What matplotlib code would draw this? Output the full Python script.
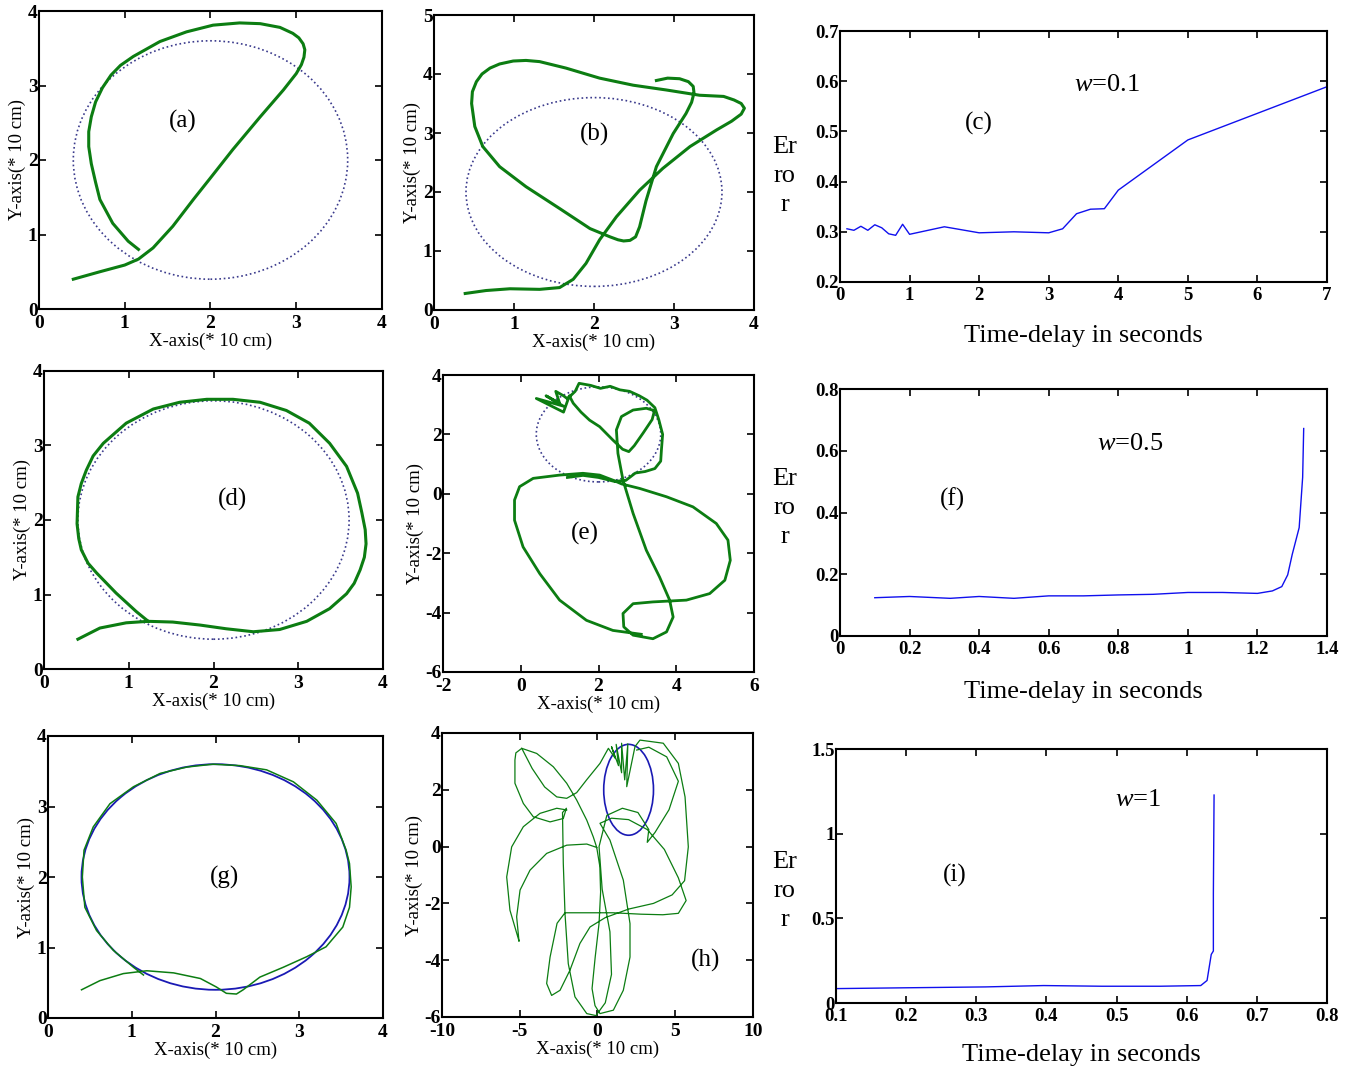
import matplotlib
matplotlib.use("Agg")
import matplotlib.pyplot as plt
from matplotlib.patches import Circle

plt.rcParams['font.family'] = ['Liberation Serif', 'DejaVu Serif']
plt.rcParams['mathtext.fontset'] = 'custom'
plt.rcParams['mathtext.rm'] = 'Liberation Serif'
plt.rcParams['mathtext.it'] = 'Liberation Serif:italic'
plt.rcParams['axes.unicode_minus'] = False

NAN = float('nan')

# ---------------- data ----------------
REF_CENTER = (2.0, 2.0)
REF_RADIUS = 1.6

a_x = [0.40, 0.71, 1.00, 1.16, 1.33, 1.56, 1.80, 2.00, 2.26, 2.58, 2.85, 3.00, 3.06, 3.09, 3.10, 3.08,
       3.03, 2.96, 2.81, 2.58, 2.34, 2.03, 1.72, 1.41, 1.10, 0.95, 0.84, 0.74, 0.66, 0.61, 0.58, 0.58,
       0.61, 0.66, 0.71, 0.86, 1.04, 1.16]
a_y = [0.40, 0.50, 0.59, 0.67, 0.82, 1.11, 1.47, 1.76, 2.14, 2.58, 2.94, 3.16, 3.28, 3.38, 3.48, 3.56,
       3.64, 3.70, 3.78, 3.83, 3.84, 3.81, 3.72, 3.59, 3.39, 3.27, 3.14, 2.97, 2.78, 2.58, 2.38, 2.18,
       1.95, 1.70, 1.47, 1.15, 0.91, 0.80]

b_x = [0.39, 0.65, 0.95, 1.32, 1.57, 1.74, 1.90, 2.07, 2.28, 2.57, 2.86, 3.20, 3.53, 3.72, 3.84, 3.88,
       3.84, 3.75, 3.62, 3.32, 2.90, 2.49, 2.07, 1.65, 1.32, 1.15, 0.99, 0.82, 0.70, 0.60, 0.53, 0.48,
       0.47, 0.51, 0.61, 0.82, 1.15, 1.57, 1.95, 2.20, 2.30, 2.37, 2.45, 2.52, 2.57, 2.65, 2.78, 2.99,
       3.15, 3.22, 3.25, 3.24, 3.18, 3.07, 2.92, 2.78]
b_y = [0.28, 0.33, 0.36, 0.35, 0.38, 0.52, 0.79, 1.19, 1.58, 2.03, 2.40, 2.77, 3.05, 3.20, 3.32, 3.42,
       3.50, 3.56, 3.62, 3.64, 3.73, 3.81, 3.93, 4.10, 4.21, 4.23, 4.22, 4.17, 4.10, 4.00, 3.87, 3.70,
       3.50, 3.11, 2.77, 2.43, 2.09, 1.72, 1.38, 1.24, 1.19, 1.17, 1.18, 1.24, 1.41, 1.85, 2.43, 2.99,
       3.33, 3.52, 3.68, 3.79, 3.87, 3.92, 3.93, 3.89]

c_x = [0.10, 0.20, 0.30, 0.40, 0.50, 0.60, 0.70, 0.80, 0.90, 1.00, 1.50, 2.00, 2.50, 3.00, 3.20,
       3.40, 3.60, 3.80, 4.00, 5.00, 7.00]
c_y = [0.306, 0.303, 0.311, 0.303, 0.314, 0.308, 0.296, 0.293, 0.315, 0.295, 0.310, 0.298, 0.300,
       0.298, 0.306, 0.336, 0.345, 0.346, 0.383, 0.483, 0.589]

d_x = [0.40, 0.66, 0.97, 1.23, 1.52, 1.84, 2.15, 2.47, 2.78, 3.10, 3.37, 3.57, 3.66, 3.73, 3.78,
       3.80, 3.79, 3.75, 3.70, 3.57, 3.37, 3.13, 2.86, 2.55, 2.23, 1.92, 1.60, 1.29, 0.97, 0.70, 0.58,
       0.50, 0.44, 0.40, 0.39, 0.41, 0.44, 0.52, 0.62, 0.85, 1.09, 1.23]
d_y = [0.40, 0.55, 0.62, 0.64, 0.63, 0.59, 0.54, 0.50, 0.53, 0.64, 0.81, 1.01, 1.15, 1.33, 1.50,
       1.68, 1.87, 2.10, 2.36, 2.72, 3.03, 3.30, 3.47, 3.58, 3.62, 3.62, 3.58, 3.49, 3.30, 3.03, 2.86,
       2.67, 2.49, 2.31, 1.95, 1.75, 1.60, 1.42, 1.29, 1.02, 0.77, 0.64]

e_x = [3.10, 2.37, 1.69, 1.00, 0.49, 0.06, -0.16, -0.16, -0.03, 0.32, 1.00, 1.60, 2.03, 2.37, 2.60,
       3.06, 3.75, 4.43, 5.03, 5.33, 5.39, 5.25, 4.86, 4.26, 3.40, 2.89, 2.63, 2.65, 2.89, 3.40, 3.75,
       3.92, 3.83, 3.57, 3.23, 2.89, 2.63, 2.50, 2.46, 2.59, 2.89, 3.23, 3.44, 3.38, 3.15, 2.92, 2.78,
       2.62, 2.37, 2.03, 1.77, 1.55, 1.35, 1.25, 1.10, 0.40, 1.10, 0.65, 1.00, 0.90, 1.10, 1.20, 1.40,
       1.50, 1.80, 2.05, 2.30, 2.55, 2.80, 3.05, 3.25, 3.45, 3.55, 3.65, 3.62, 3.60, 3.45, 3.20, 2.95,
       2.70, 2.40, 2.00, 1.60, 1.20]
e_y = [-4.73, -4.60, -4.26, -3.58, -2.69, -1.79, -0.89, -0.21, 0.24, 0.52, 0.63, 0.69, 0.63, 0.46,
       0.33, 0.18, -0.10, -0.44, -1.00, -1.56, -2.24, -2.91, -3.36, -3.58, -3.64, -3.70, -4.03, -4.48,
       -4.76, -4.88, -4.65, -4.15, -3.58, -2.80, -1.90, -0.66, 0.46, 1.36, 2.15, 2.60, 2.82, 2.88, 2.80,
       2.50, 2.05, 1.62, 1.42, 1.50, 1.81, 2.26, 2.48, 2.75, 3.05, 3.30, 2.75, 3.21, 2.95, 3.30, 3.05,
       3.45, 3.30, 3.20, 3.45, 3.72, 3.65, 3.55, 3.62, 3.50, 3.45, 3.30, 3.15, 2.90, 2.50, 2.00, 1.50,
       1.10, 0.85, 0.75, 0.70, 0.45, 0.42, 0.55, 0.62, 0.55]

f_x = [0.10, 0.20, 0.317, 0.40, 0.50, 0.60, 0.70, 0.80, 0.90, 1.00, 1.10, 1.20, 1.243, 1.27, 1.287,
       1.30, 1.32, 1.33, 1.333]
f_y = [0.124, 0.128, 0.122, 0.128, 0.122, 0.130, 0.130, 0.133, 0.135, 0.141, 0.141, 0.138, 0.146,
       0.160, 0.198, 0.264, 0.351, 0.514, 0.672]

g_x = [0.40, 0.62, 0.90, 1.18, 1.50, 1.82, 2.01, 2.13, 2.25, 2.33, 2.53, 2.81, 3.09, 3.32, 3.52,
       3.60, 3.62, 3.60, 3.56, 3.44, 3.21, 2.93, 2.61, 2.29, 1.97, 1.66, 1.34, 1.02, 0.74, 0.54, 0.43,
       0.41, 0.44, 0.58, 0.78, 1.02, 1.14]
g_y = [0.40, 0.53, 0.63, 0.67, 0.64, 0.56, 0.44, 0.35, 0.34, 0.40, 0.58, 0.72, 0.87, 1.01, 1.29,
       1.57, 1.86, 2.19, 2.38, 2.76, 3.09, 3.35, 3.52, 3.58, 3.60, 3.56, 3.47, 3.28, 3.04, 2.71, 2.38,
       2.00, 1.57, 1.24, 0.96, 0.72, 0.61]

# (h) trajectory: three traced strokes separated by NaN breaks
h_x = [-5.05, -5.20, -4.98, -4.34, -3.27, -1.98, -0.69, -0.05, 0.15, 0.20, 0.10, -0.15, -0.35, -0.16,
       0.16, 1.02, 1.66, 2.09, 2.09, 1.66, 0.80, 0.16, 0.90, 2.00, 3.20, 4.30, 5.20, 5.70, 5.20, 4.20,
       2.80, 1.00, -0.50, -2.09, -2.60, -3.05, -3.27, -2.95, -2.41, -1.77, -1.13, -0.48, 0.50, 2.00,
       3.60, 4.80, 5.60, 5.84, 5.63, 5.20, 4.23, 2.73, 2.41, 1.88, 1.95, 1.75, 1.55, 1.55, 1.20, 1.35,
       0.90, 1.15, 0.70, 0.16, -0.70, -1.34, -1.98, -2.62, -3.40, -4.20, -4.87, -5.25, -5.31, -5.31,
       -4.77, -4.13, -3.05, -2.20, -2.00, -2.25, -2.20, -2.09, -1.88, -1.45, -0.69, -0.10, 0.50, 0.90,
       0.80, 0.30, 0.10, 0.60, 1.60, 2.60, 3.30, 3.20, 3.70, 4.60, 5.20, 4.45, 3.30, 2.52,
       NAN,
       -4.87, -3.91, -2.84, -1.98, -1.34, -0.69, -0.27, -0.05,
       NAN,
       -1.98, -2.62, -3.70, -4.77, -5.52, -5.84, -5.63, -5.05]
h_y = [-3.32, -2.47, -1.53, -0.83, -0.24, 0.05, 0.09, -0.03, -0.70, -1.60, -2.70, -3.90, -5.00, -5.60,
       -5.88, -5.76, -5.06, -3.89, -2.71, -1.18, 0.23, 0.82, 1.00, 0.95, 0.60, -0.10, -1.10, -1.90,
       -2.35, -2.40, -2.38, -2.33, -2.33, -2.33, -2.70, -3.89, -4.82, -5.24, -5.06, -4.35, -3.41, -2.83,
       -2.50, -2.20, -2.00, -1.70, -1.20, -0.01, 1.75, 2.93, 3.64, 3.75, 3.52, 2.11, 3.62, 2.35, 3.64,
       2.60, 3.60, 2.85, 3.52, 3.10, 3.46, 2.93, 2.35, 1.90, 1.70, 1.75, 2.10, 2.75, 3.46, 3.30, 3.05,
       2.23, 1.52, 1.05, 0.87, 0.99, 1.35, 1.20, -0.59, -2.36, -4.12, -5.29, -5.88, -5.95, -5.50, -4.50,
       -3.00, -1.50, 0.00, 1.10, 1.35, 1.20, 0.60, 0.15, 0.50, 1.30, 2.30, 3.16, 3.50, 3.40,
       NAN,
       3.46, 3.28, 2.81, 2.23, 1.64, 0.93, 0.34, -0.03,
       NAN,
       1.29, 1.35, 1.17, 0.70, -0.01, -1.07, -2.24, -3.32]

i_x = [0.10, 0.203, 0.313, 0.396, 0.479, 0.562, 0.620, 0.629, 0.635, 0.638, 0.638, 0.639]
i_y = [0.085, 0.090, 0.095, 0.103, 0.099, 0.099, 0.103, 0.133, 0.287, 0.307, 0.644, 1.228]

ticks_xy_04 = [0, 1, 2, 3, 4]
ticks_b_y = [0, 1, 2, 3, 4, 5]
ticks_e_x = [-2, 0, 2, 4, 6]
ticks_e_y = [-6, -4, -2, 0, 2, 4]
ticks_h_x = [-10, -5, 0, 5, 10]
ticks_c_x = [0, 1, 2, 3, 4, 5, 6, 7]
ticks_c_y = [0.2, 0.3, 0.4, 0.5, 0.6, 0.7]
labels_c_y = ['0.2', '0.3', '0.4', '0.5', '0.6', '0.7']
ticks_f_x = [0, 0.2, 0.4, 0.6, 0.8, 1.0, 1.2, 1.4]
labels_f_x = ['0', '0.2', '0.4', '0.6', '0.8', '1', '1.2', '1.4']
ticks_f_y = [0, 0.2, 0.4, 0.6, 0.8]
labels_f_y = ['0', '0.2', '0.4', '0.6', '0.8']
ticks_i_x = [0.1, 0.2, 0.3, 0.4, 0.5, 0.6, 0.7, 0.8]
labels_i_x = ['0.1', '0.2', '0.3', '0.4', '0.5', '0.6', '0.7', '0.8']
ticks_i_y = [0, 0.5, 1.0, 1.5]
labels_i_y = ['0', '0.5', '1', '1.5']

GREEN = '#0c7d12'
REFC = '#3a3a8c'
BLUE = '#1010ee'

W, H = 1359, 1070
fig = plt.figure(figsize=(W / 100, H / 100), dpi=100)


def add_ax(l, r, t, b):
    return fig.add_axes([l / W, 1 - b / H, (r - l) / W, (b - t) / H])


def style(ax, xt, yt, xl=None, yl=None, fs=14, xpad=4.5):
    ax.set_xticks(xt)
    ax.set_yticks(yt)
    if xl is not None:
        ax.set_xticklabels(xl)
    if yl is not None:
        ax.set_yticklabels(yl)
    ax.tick_params(direction='in', length=5, width=1.2, top=True, right=True,
                   labelsize=fs)
    ax.tick_params(axis='x', pad=xpad)
    ax.tick_params(axis='y', pad=1.0)
    for lab in ax.get_xticklabels() + ax.get_yticklabels():
        lab.set_fontweight('bold')
    for s in ax.spines.values():
        s.set_linewidth(1.5)


def traj_labels(ax):
    ax.set_xlabel('X-axis(* 10 cm)', fontsize=13.5, labelpad=0)
    ax.set_ylabel('Y-axis(* 10 cm)', fontsize=13.5, labelpad=1)


def ref(ax, ls=':', color=REFC, lw=1.2):
    ax.add_patch(Circle(REF_CENTER, REF_RADIUS, fill=False, linestyle=ls,
                        edgecolor=color, linewidth=lw))


def error_label(y_px):
    fig.text(785 / W, 1 - y_px / H, 'Er\nro\nr', fontsize=19, ha='center', va='center',
             multialignment='center', linespacing=1.42)


LBL = 18
WFS = 19

# (a)
ax = add_ax(39, 382, 11, 309)
ref(ax)
ax.plot(a_x, a_y, color=GREEN, lw=2.2, solid_joinstyle='round')
ax.set_xlim(0, 4); ax.set_ylim(0, 4)
style(ax, ticks_xy_04, ticks_xy_04)
traj_labels(ax)
ax.text(1.68, 2.52, '(a)', fontsize=LBL, ha='center', va='center')

# (b)
ax = add_ax(434, 754, 15, 310)
ref(ax)
ax.plot(b_x, b_y, color=GREEN, lw=2.2, solid_joinstyle='round')
ax.set_xlim(0, 4); ax.set_ylim(0, 5)
style(ax, ticks_xy_04, ticks_b_y)
traj_labels(ax)
ax.text(2.01, 2.97, '(b)', fontsize=LBL, ha='center', va='center')

# (c)
ax = add_ax(840, 1327, 31, 282)
ax.plot(c_x, c_y, color=BLUE, lw=1.0)
ax.set_xlim(0, 7); ax.set_ylim(0.2, 0.7)
style(ax, ticks_c_x, ticks_c_y, None, labels_c_y, fs=13.5, xpad=3.5)
ax.set_xlabel('Time-delay in seconds', fontsize=19, labelpad=15)
ax.text(3.84, 0.592, r'$w$=0.1', fontsize=WFS, ha='center', va='center')
ax.text(2.0, 0.516, '(c)', fontsize=LBL, ha='center', va='center')
error_label(176)

# (d)
ax = add_ax(44, 383, 371, 669)
ref(ax)
ax.plot(d_x, d_y, color=GREEN, lw=2.2, solid_joinstyle='round')
ax.set_xlim(0, 4); ax.set_ylim(0, 4)
style(ax, ticks_xy_04, ticks_xy_04)
traj_labels(ax)
ax.text(2.23, 2.27, '(d)', fontsize=LBL, ha='center', va='center')

# (e)
ax = add_ax(443, 754, 375, 672)
ref(ax)
ax.plot(e_x, e_y, color=GREEN, lw=2.0, solid_joinstyle='round')
ax.set_xlim(-2, 6); ax.set_ylim(-6, 4)
style(ax, ticks_e_x, ticks_e_y)
traj_labels(ax)
ax.text(1.64, -1.34, '(e)', fontsize=LBL, ha='center', va='center')

# (f)
ax = add_ax(840, 1327, 389, 636)
ax.plot(f_x, f_y, color=BLUE, lw=1.0)
ax.set_xlim(0, 1.4); ax.set_ylim(0, 0.8)
style(ax, ticks_f_x, ticks_f_y, labels_f_x, labels_f_y, fs=13.5, xpad=3.5)
ax.set_xlabel('Time-delay in seconds', fontsize=19, labelpad=17)
ax.text(0.835, 0.623, r'$w$=0.5', fontsize=WFS, ha='center', va='center')
ax.text(0.322, 0.444, '(f)', fontsize=LBL, ha='center', va='center')
error_label(508)

# (g)
ax = add_ax(48, 383, 736, 1018)
ref(ax, ls='-', color='#1a1ab4', lw=1.3)
ax.plot(g_x, g_y, color=GREEN, lw=1.1)
ax.set_xlim(0, 4); ax.set_ylim(0, 4)
style(ax, ticks_xy_04, ticks_xy_04)
traj_labels(ax)
ax.text(2.11, 2.0, '(g)', fontsize=LBL, ha='center', va='center')

# (h)
ax = add_ax(442, 753, 733, 1017)
ref(ax, ls='-', color='#1a1ab4', lw=1.2)
ax.plot(h_x, h_y, color=GREEN, lw=0.9, solid_joinstyle='round')
ax.set_xlim(-10, 10); ax.set_ylim(-6, 4)
style(ax, ticks_h_x, ticks_e_y)
traj_labels(ax)
ax.text(6.93, -4.0, '(h)', fontsize=LBL, ha='center', va='center')

# (i)
ax = add_ax(836, 1327, 749, 1003)
ax.plot(i_x, i_y, color=BLUE, lw=1.0)
ax.set_xlim(0.1, 0.8); ax.set_ylim(0, 1.5)
style(ax, ticks_i_x, ticks_i_y, labels_i_x, labels_i_y, fs=13.5, xpad=3.5)
ax.set_xlabel('Time-delay in seconds', fontsize=19, labelpad=14)
ax.text(0.531, 1.199, r'$w$=1', fontsize=WFS, ha='center', va='center')
ax.text(0.269, 0.753, '(i)', fontsize=LBL, ha='center', va='center')
error_label(891)

fig.savefig('out.png', dpi=100, facecolor='white')
